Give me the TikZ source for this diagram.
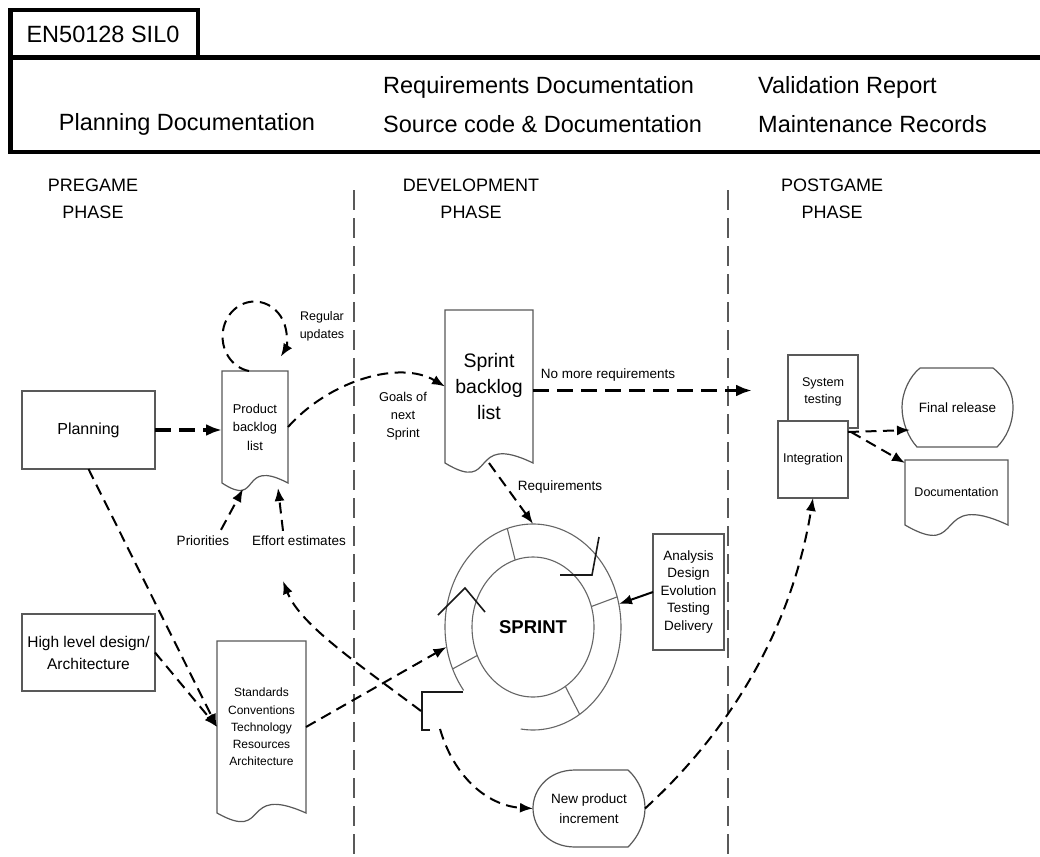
\documentclass[tikz,border=0pt]{standalone}
\usepackage{fontspec}
\setmainfont{Liberation Sans}
\usetikzlibrary{arrows.meta,calc,shapes.geometric}

% document symbol with a wavy lower edge: left, top, right, bottom corner, wave depth
\newcommand\docshape[5]{%
  \draw[outline, fill=white] (#1,#2) -- (#3,#2) -- (#3,#4)
    .. controls ({#1+0.25*(#3-#1)},{#4-#5}) and ({#1+0.6*(#3-#1)},{#4+#5}) .. (#1,#4) -- cycle;}

\begin{document}
\begin{tikzpicture}[x=1pt,y=-1pt,
  outline/.style={draw=black!65, line width=1.2pt},
  ring/.style={draw=black!60, line width=1.1pt},
  ringmark/.style={draw=black!90, line width=1.6pt},
  hdr/.style={line width=4.6pt},
  phaseline/.style={draw=black!65, line width=1.3pt, dash pattern=on 20pt off 8pt},
  flow/.style={line width=2pt, dash pattern=on 11pt off 6.5pt, -{Latex[length=13pt,width=10pt]}},
  bigflow/.style={line width=3.2pt, dash pattern=on 16pt off 8pt, -{Latex[length=16pt,width=12pt]}},
  solidflow/.style={line width=2pt, -{Latex[length=13pt,width=10pt]}},
  area/.style={inner sep=0pt, outer sep=0pt, align=center},
  boxnode/.style={outline, fill=white, inner sep=0pt, outer sep=0pt, align=center},
  lbl/.style={inner sep=0pt, align=center, font=\fontsize{13}{17}\selectfont},
  phase/.style={inner sep=0pt, align=center, font=\fontsize{18}{27}\selectfont},
  head/.style={inner sep=0pt, font=\fontsize{23.5}{28}\selectfont}
]
\fill[white] (0,0) rectangle (1040,856);
\useasboundingbox (0,0) rectangle (1040,856);

% ---------- standard header ----------
\draw[hdr] (10.5,57.5) -- (10.5,10) -- (198,10) -- (198,57.5);
\draw[hdr] (1060,57.5) -- (10.5,57.5) -- (10.5,152) -- (1060,152);
\node[head] (std) at (103,34) {EN50128 SIL0};
\node[head] (hplan) at (187,124) {Planning Documentation};
\node[head, anchor=west] (hreq) at (383,87) {Requirements Documentation};
\node[head, anchor=west] (hsrc) at (383,124) {Source code \& Documentation};
\node[head, anchor=west] (hval) at (758,87) {Validation Report};
\node[head, anchor=west] (hmnt) at (758,124) {Maintenance Records};

% ---------- phases ----------
\node[phase] (pre) at (93,199) {PREGAME\\PHASE};
\node[phase] (dev) at (471,199) {DEVELOPMENT\\PHASE};
\node[phase] (post) at (832,199) {POSTGAME\\PHASE};
\coordinate (sepAtop) at (354,190);
\coordinate (sepAbot) at (354,860);
\coordinate (sepBtop) at (728,190);
\coordinate (sepBbot) at (728,860);
\draw[phaseline] (sepAtop) -- (sepAbot);
\draw[phaseline] (sepBtop) -- (sepBbot);

% ---------- pregame ----------
\node[boxnode, minimum width=133pt, minimum height=78pt, font=\fontsize{16}{19}\selectfont]
  (plan) at (88.5,430) {Planning};
\node[boxnode, minimum width=133pt, minimum height=77pt, font=\fontsize{15.5}{22}\selectfont]
  (hld) at (88.5,652.5) {High level design/\\Architecture};

\docshape{222}{371}{288}{483}{26}
\node[area, minimum width=66pt, minimum height=112pt, font=\fontsize{12.8}{18.5}\selectfont]
  (pb) at (255,427) {Product\\backlog\\list};

\docshape{217}{641}{306}{813}{30}
\node[area, minimum width=89pt, minimum height=172pt, font=\fontsize{12}{17.3}\selectfont]
  (stdc) at (261.5,727) {Standards\\Conventions\\Technology\\Resources\\Architecture};

\node[lbl, font=\fontsize{12.5}{18}\selectfont] (reg) at (322,326) {Regular\\updates};
\node[lbl, font=\fontsize{13.5}{17}\selectfont] (pri) at (203,541) {Priorities};
\node[lbl, font=\fontsize{13.5}{17}\selectfont] (eff) at (299,541) {Effort estimates};

% ---------- development ----------
\docshape{445}{310}{533}{463}{32}
\node[area, minimum width=88pt, minimum height=153pt, font=\fontsize{19.5}{26}\selectfont]
  (sb) at (489,386.5) {Sprint\\backlog\\list};
\node[lbl, font=\fontsize{12.8}{18}\selectfont] (goals) at (403,416) {Goals of\\next\\Sprint};
\node[lbl, font=\fontsize{13.5}{17}\selectfont] (nomore) at (608,375) {No more requirements};
\node[lbl, font=\fontsize{13.5}{17}\selectfont] (reqs) at (560,487) {Requirements};

% sprint cycle: ring with segment dividers
\coordinate (c) at (533,627);
\draw[ring] ($(c)+(142:88 and 103)$) arc[start angle=142, end angle=458, x radius=88, y radius=103];
\draw[ring] (c) ellipse[x radius=61, y radius=70];
\foreach \a in {253,343,58,156}
  \draw[ring] ($(c)+(\a:61 and 70)$) -- ($(c)+(\a:88 and 103)$);
\draw[ringmark] (560,575) -- (592,575) -- (599,537);
\draw[ringmark] (438,615) -- (465,588) -- (485,612);
\draw[ringmark] (463,692) -- (422,692) -- (422,730) -- (430,730);
\node[ellipse, inner sep=0pt, minimum width=176pt, minimum height=206pt,
      font=\bfseries\fontsize{18.5}{22}\selectfont] (sprint) at (c) {SPRINT};

\node[boxnode, minimum width=71pt, minimum height=116pt, font=\fontsize{13.5}{17.5}\selectfont]
  (ana) at (688.5,592) {Analysis\\Design\\Evolution\\Testing\\Delivery};

% new product increment
\draw[outline, fill=white] (628,770) -- (575,770) .. controls (548,770) and (533,790) .. (533,808)
  .. controls (533,827) and (548,847) .. (575,847) -- (628,847)
  .. controls (640,835) and (645,820) .. (645,808) .. controls (645,796) and (640,781) .. (628,770);
\node[area, minimum width=112pt, minimum height=77pt, font=\fontsize{13.5}{20}\selectfont]
  (npi) at (589,808.5) {New product\\increment};

% ---------- postgame ----------
\node[boxnode, minimum width=70pt, minimum height=73pt, font=\fontsize{12.6}{17}\selectfont]
  (sys) at (823,391.5) {System\\testing};
\node[boxnode, minimum width=70pt, minimum height=77pt, font=\fontsize{12.7}{17}\selectfont]
  (integ) at (813,459.5) {Integration};

\draw[outline, fill=white] (920,368) -- (993,368) .. controls (1008,380) and (1013,394) .. (1013,407)
  .. controls (1013,424) and (1006,438) .. (997,447) -- (917,447)
  .. controls (908,437) and (902,422) .. (902,407) .. controls (902,392) and (910,376) .. (920,368);
\node[area, minimum width=111pt, minimum height=79pt, font=\fontsize{13.5}{17}\selectfont]
  (fin) at (957.5,407.5) {Final release};

\docshape{905}{460}{1008}{525}{36}
\node[area, minimum width=103pt, minimum height=65pt, font=\fontsize{12.5}{17}\selectfont]
  (doc) at (956.5,492.5) {Documentation};

% ---------- connectors ----------
\draw[bigflow] (plan.east) -- (plan.east -| pb.west);
\draw[flow] ([xshift=-6pt]pb.north) arc[start angle=100, end angle=395, x radius=32, y radius=35];
\draw[flow] (plan.south) -- (stdc.west);
\draw[flow] (hld.east) -- (stdc.west);
\draw[flow] ($(pri.north)+(18,-6)$) -- ($(pb.south)+(-12,6)$);
\draw[flow] ($(eff.north)+(-16,-5)$) -- ($(pb.south)+(23,5)$);
\draw[flow] (pb.east) .. controls (330,380) and (400,360) .. (sb.west);
\coordinate (postin) at (752,390.5);
\draw[bigflow] ([yshift=-4pt]sb.east) -- (postin);
\draw[flow] (sb.south) -- (sprint.north);
\draw[solidflow] (ana.west) -- (sprint.15);
\draw[flow] (stdc.east) -- (sprint.193);
\coordinate (stepA) at (421,711);
\coordinate (stepB) at (440,729);
\coordinate (effin) at (283,581);
\draw[flow] (stepA) .. controls (360,665) and (300,625) .. (effin);
\draw[flow] (stepB) .. controls (455,780) and (490,806) .. (npi.west);
\draw[flow] (npi.east) .. controls (720,740) and (790,640) .. (integ.south);
\draw[flow] ($(integ.north east)+(0,11)$) -- ($(fin.south west)+(8,-17)$);
\draw[flow] ($(integ.north east)+(3,11)$) -- ($(doc.north west)+(0,3)$);
\end{tikzpicture}
\end{document}
